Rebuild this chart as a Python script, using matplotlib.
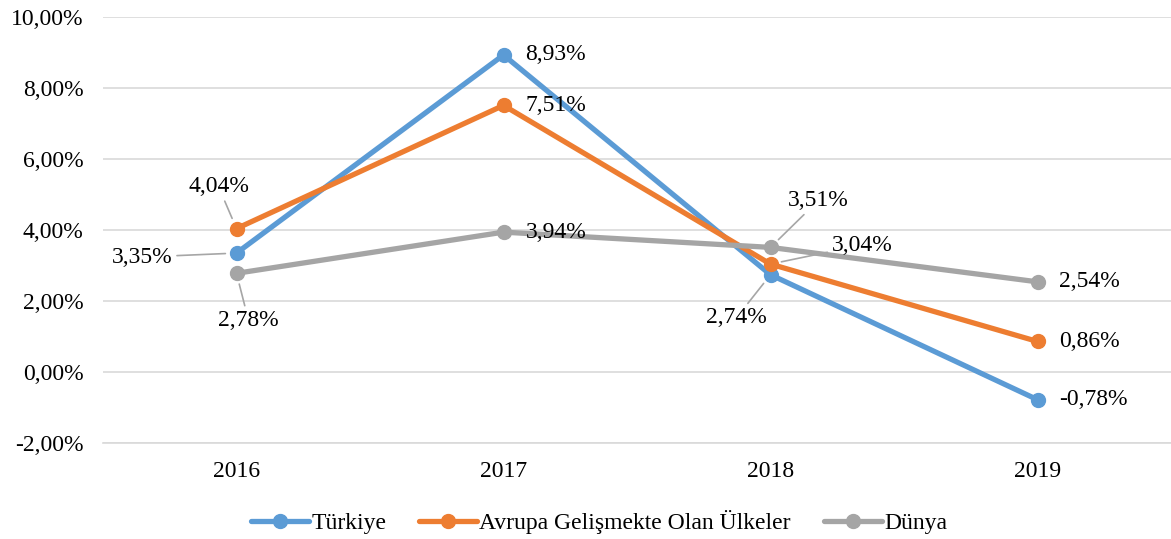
import matplotlib
matplotlib.use("Agg")
import matplotlib.pyplot as plt
from matplotlib.ticker import FuncFormatter

years = ["2016", "2017", "2018", "2019"]
turkiye = [3.35, 8.93, 2.74, -0.78]
avrupa = [4.04, 7.51, 3.04, 0.86]
dunya = [2.78, 3.94, 3.51, 2.54]
series_names = ["Türkiye", "Avrupa Gelişmekte Olan Ülkeler", "Dünya"]
colors = ["#5B9BD5", "#ED7D31", "#A5A5A5"]
yticks = [-2, 0, 2, 4, 6, 8, 10]

plt.rcParams['font.family'] = ['Liberation Serif', 'DejaVu Serif']

fig = plt.figure(figsize=(11.71, 5.39), dpi=100)
ax = fig.add_axes([103/1171, 1 - 443/539, 1 - 103/1171, (443 - 17)/539])

x = list(range(len(years)))
all_series = [turkiye, avrupa, dunya]
for i, (vals, name, c) in enumerate(zip(all_series, series_names, colors)):
    ax.plot(x, vals, color=c, lw=3.8, marker='o', markersize=10, label=name,
            zorder=3 + i, solid_capstyle='round')

def fmt(v):
    return f"{v:.2f}%".replace('.', ',')

FS = 17
# label offsets in pixels (dx, dy), leader flag, alignment
offsets = {
    (0, 0): ((-94, -4), 'center'),
    (1, 0): ((-18, 42), 'center'),
    (2, 0): ((12, -47), 'center'),
    (0, 2): ((-34, -43), 'center'),
    (1, 2): ((61, 19), 'left'),
    (2, 2): ((48, 47), 'center'),
}
for si, vals in enumerate(all_series):
    for xi, v in enumerate(vals):
        key = (si, xi)
        if key in offsets:
            (dx, dy), ha = offsets[key]
            ax.annotate(fmt(v), xy=(xi, v), xytext=(dx, dy), textcoords='offset pixels',
                        ha=ha, va='center', fontsize=FS, color='#000000', zorder=10,
                        arrowprops=dict(arrowstyle='-', color='#A6A6A6', lw=1.2,
                                        shrinkA=1, shrinkB=8))
        else:
            ax.annotate(fmt(v), xy=(xi, v), xytext=(22, 0), textcoords='offset pixels',
                        ha='left', va='center', fontsize=FS, color='#000000', zorder=10)

ax.set_xlim(-0.5, 3.5)
ax.set_ylim(-2, 10)
ax.set_yticks(yticks)
ax.yaxis.set_major_formatter(FuncFormatter(lambda v, p: fmt(v)))
ax.set_xticks(x)
ax.set_xticklabels(years)
ax.tick_params(axis='both', length=0, labelsize=FS, colors='#000000')
ax.tick_params(axis='x', pad=13)
ax.tick_params(axis='y', pad=14)
ax.grid(axis='y', color='#D9D9D9', lw=1.2)
ax.set_axisbelow(True)
for s in ['top', 'right', 'left']:
    ax.spines[s].set_visible(False)
ax.spines['bottom'].set_color('#D9D9D9')
ax.spines['bottom'].set_linewidth(1.2)

fig.legend(loc='center', bbox_to_anchor=(599/1171, 1 - 522/539), ncol=3, frameon=False,
           fontsize=FS, handlelength=2.45, handletextpad=0.1, columnspacing=1.4,
           markerscale=1.0)

fig.savefig("out.png", dpi=100)
